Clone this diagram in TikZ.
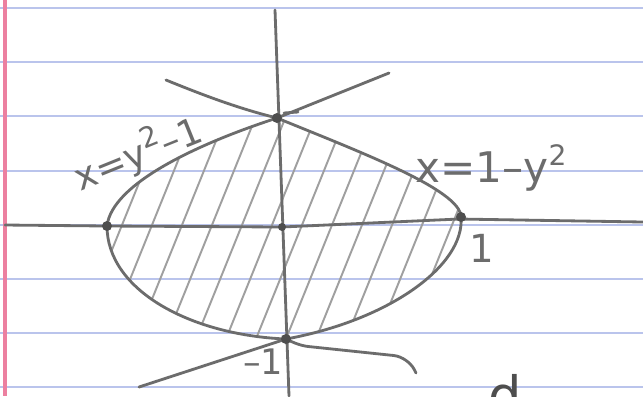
\documentclass[tikz,border=0pt]{standalone}
\usepackage{fontspec}
\setmainfont{DejaVu Sans}
\definecolor{pencil}{RGB}{108,108,108}
\definecolor{lead}{RGB}{78,78,78}
\definecolor{ruleblue}{RGB}{186,196,236}
\definecolor{marginred}{RGB}{236,128,160}
\newcommand{\sqtwo}{\raisebox{.75ex}{\fontsize{8}{9}\selectfont 2}}

\begin{document}
\begin{tikzpicture}[
  x=0.01cm, y=-0.01cm,
  pencil/.style={draw=pencil, line width=0.8pt, line cap=round, line join=round},
  hatch/.style={draw=pencil!65, line width=0.55pt, line cap=round},
  rule/.style={draw=ruleblue, line width=0.7pt},
  margin/.style={draw=marginred, line width=1.4pt},
  lbl/.style={text=pencil, inner sep=0pt, font=\fontsize{12}{14}\selectfont},
]
  % ----- Paper -----
  \fill[white] (0,0) rectangle (643,396);
  \useasboundingbox (0,0) rectangle (643,396);
  \foreach \ry in {8,62,116,171,225,279,333,387}
    \draw[rule] (0,\ry) -- (643,\ry);
  \draw[margin] (5,0) -- (5,396);

  % Key points
  \coordinate (top) at (277,118);
  \coordinate (bot) at (286,339);
  \coordinate (lft) at (107,226);
  \coordinate (rgt) at (461,217);
  \coordinate (org) at (282,227);

  % ----- Hatching, clipped to the region -----
  \begin{scope}
    \clip (top) .. controls (200,143) and (112,183) .. (lft)
          .. controls (107,290) and (190,335) .. (bot)
          .. controls (390,320) and (465,265) .. (rgt)
          .. controls (461,190) and (360,152) .. (top) -- cycle;
    \foreach \hx in {122,152,...,452}
      \draw[hatch] (\hx-55,361) -- (\hx+55,89);
  \end{scope}

  % ----- Axes -----
  \coordinate (ya) at (275,10);
  \coordinate (yb) at (289,396);
  \coordinate (xa) at (5,225);
  \coordinate (xb) at (643,222);
  \draw[pencil] (ya) -- (yb);
  \draw[pencil] (xa) -- (lft) -- (org) -- (459,219) -- (xb);

  % ----- The two parabolas -----
  \draw[pencil] (top) .. controls (200,143) and (112,183) .. (lft)
                      .. controls (107,290) and (190,335) .. (bot);
  \draw[pencil] (top) .. controls (360,152) and (461,190) .. (rgt)
                      .. controls (465,265) and (390,320) .. (bot);

  % Lines through the corners
  \coordinate (tl) at (166,80);
  \coordinate (tr) at (389,73);
  \coordinate (bl) at (139,387);
  \coordinate (br) at (416,373);
  \draw[pencil] (tl) .. controls (215,100) and (245,110) .. (top);
  \draw[pencil] (top) -- (tr);
  \draw[pencil] (284,113) -- (298,112);
  \draw[pencil] (bl) -- (bot);
  \draw[pencil, rounded corners=4] (bot) -- (294,345) -- (408,357) -- (br);

  % Dots
  \foreach \p in {top,bot,lft,rgt}
    \fill[lead] (\p) circle[radius=5];
  \fill[lead] (org) circle[radius=4];

  % ----- Labels -----
  \node[lbl, rotate=22, font=\fontsize{10.5}{12}\selectfont] (lcurve) at (138,153) {x=y\sqtwo–1};
  \node[lbl] (rcurve) at (491,168) {x=1–y\sqtwo};
  \node[lbl, font=\fontsize{11}{12}\selectfont] (one) at (482,248) {1};
  \node[lbl, font=\fontsize{10}{12}\selectfont] (mone) at (263,362) {–1};
  \node[lbl, text=lead, anchor=base, font=\fontsize{15}{16}\selectfont] (frag) at (505,414) {d};
\end{tikzpicture}
\end{document}
